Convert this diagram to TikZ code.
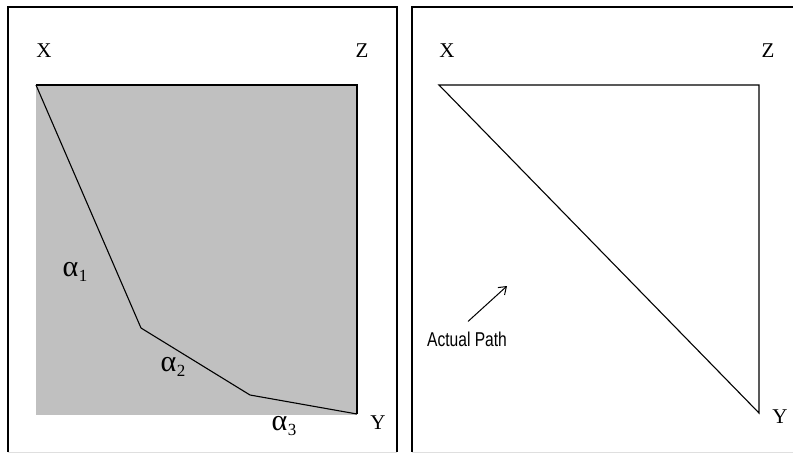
\documentclass[tikz,border=0pt]{standalone}
\usepackage{fontspec}
\setmainfont{Liberation Serif}
\newfontfamily\narrowsans[FakeStretch=0.78]{Liberation Sans}
\usetikzlibrary{arrows.meta}
\definecolor{greyfill}{RGB}{192,192,192}
\newcommand{\alphasub}[1]{α\kern0.5pt\raisebox{-5pt}{\fontsize{17}{17}\selectfont #1}}

\begin{document}
\begin{tikzpicture}[x=1pt,y=-1pt,font=\fontsize{21}{23}\selectfont,>={Straight Barb[length=7pt,width=10pt]},frame/.style={line width=2pt},edge/.style={line width=1.1pt},letter/.style={inner sep=0pt},greek/.style={inner sep=0pt,font=\fontsize{30}{30}\selectfont}]
\useasboundingbox (0,0) rectangle (793,453);
\draw[gray!25, line width=1pt] (8,452) -- (397,452) (412,452) -- (793,452);
\draw[frame] (8,452) -- (8,7) -- (397,7) -- (397,452);\draw[frame] (793,7) -- (412,7) -- (412,452);
% left: grey square with the broken path
\coordinate (lx) at (36,85);\coordinate (lz) at (357,85);\coordinate (ly) at (357,414);\coordinate (p1) at (141,328);\coordinate (p2) at (250,395);
\fill[greyfill] (36,85) rectangle (357,415);
\draw[edge] (lx) -- (lz) -- (ly);\draw[edge] (lx) -- (p1) -- (p2) -- (ly);
\node[letter] (labX) at (44,51) {X};\node[letter] (labZ) at (362,51) {Z};\node[letter] (labY) at (378,423) {Y};
\node[greek] (a1) at (75,272) {\alphasub{1}};\node[greek] (a2) at (173,367) {\alphasub{2}};\node[greek] (a3) at (284,426) {\alphasub{3}};
% right: straight path
\coordinate (rx) at (439,85);\coordinate (rz) at (759,85);\coordinate (ry) at (759,413);
\draw[edge] (rx) -- (rz) -- (ry) -- cycle;
\node[letter] (labX2) at (447,51) {X};\node[letter] (labZ2) at (768,51) {Z};\node[letter] (labY2) at (780,417) {Y};
\node[letter, font=\narrowsans\fontsize{20}{22}\selectfont] (actual) at (467,339) {Actual Path};
\coordinate (tip) at (507,286);
\draw[->, line width=1pt] (actual.north) ++(1,-10) -- (tip);
\end{tikzpicture}
\end{document}
